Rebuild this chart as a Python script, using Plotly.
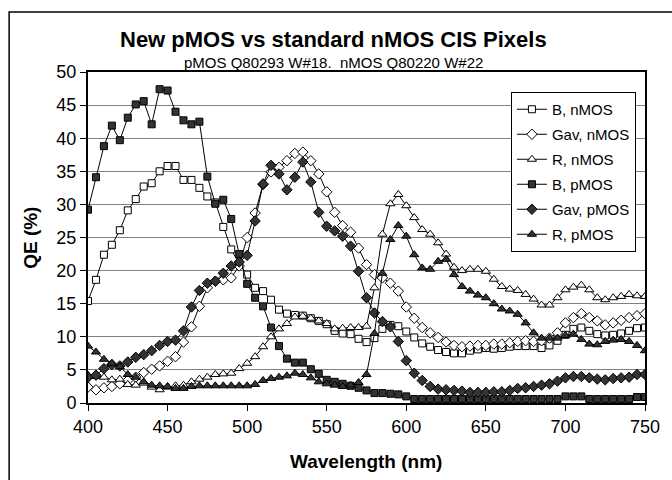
import plotly.graph_objects as go

wavelength = [400, 405, 410, 415, 420, 425, 430, 435, 440, 445,
              450, 455, 460, 465, 470, 475, 480, 485, 490, 495,
              500, 505, 510, 515, 520, 525, 530, 535, 540, 545,
              550, 555, 560, 565, 570, 575, 580, 585, 590, 595,
              600, 605, 610, 615, 620, 625, 630, 635, 640, 645,
              650, 655, 660, 665, 670, 675, 680, 685, 690, 695,
              700, 705, 710, 715, 720, 725, 730, 735, 740, 745,
              750]

b_nmos = [15.4, 18.6, 22.4, 23.9, 26.1, 29.1, 30.8, 32.7, 33.2, 35.0,
          35.8, 35.8, 33.7, 33.7, 32.5, 31.2, 30.3, 26.6, 23.2, 21.0,
          19.4, 17.4, 16.9, 15.6, 14.1, 13.5, 13.3, 13.2, 12.8, 12.4,
          11.9, 10.9, 10.5, 10.4, 9.7, 9.2, 9.8, 11.2, 11.8, 11.6,
          10.8, 9.9, 9.0, 8.5, 8.0, 7.7, 7.5, 7.5, 7.9, 8.1,
          8.3, 8.2, 8.3, 8.5, 8.6, 8.6, 8.6, 8.3, 8.7, 9.4,
          10.3, 11.2, 11.4, 10.9, 10.4, 10.2, 10.3, 10.5, 10.9, 11.3,
          11.4]

gav_nmos = [2.4, 2.0, 2.3, 2.5, 2.9, 3.4, 3.9, 4.6, 5.1, 5.6,
            6.3, 7.0, 9.2, 11.5, 14.6, 17.4, 18.4, 18.6, 18.9, 20.7,
            25.0, 28.7, 33.0, 34.9, 35.6, 36.6, 37.7, 37.9, 36.6, 34.6,
            31.9, 28.8, 26.8, 25.8, 23.4, 20.9, 19.4, 18.9, 18.1, 16.9,
            14.5, 12.8, 11.4, 10.6, 9.9, 9.2, 8.7, 8.5, 8.6, 8.7,
            8.7, 8.9, 8.9, 9.1, 9.3, 9.4, 9.3, 9.4, 9.8, 10.6,
            12.1, 12.9, 13.5, 12.9, 12.4, 11.8, 12.1, 12.5, 12.9, 13.2,
            13.5]

r_nmos = [4.2, 4.0, 3.9, 3.5, 3.6, 2.8, 2.7, 3.0, 2.4, 2.0,
          2.4, 2.6, 2.7, 3.2, 3.6, 3.9, 4.3, 4.4, 4.5, 5.2,
          6.0, 7.0, 8.5, 10.0, 11.2, 12.0, 13.0, 13.1, 12.8, 12.4,
          12.0, 11.2, 11.3, 11.4, 11.4, 11.6, 17.4, 25.5, 30.1, 31.5,
          29.8, 28.0, 26.2, 25.5, 24.2, 22.5, 20.5, 20.0, 20.2, 20.2,
          19.9, 18.7, 17.6, 17.2, 17.0, 16.4, 15.7, 14.8, 14.8, 15.9,
          17.1, 17.5, 17.8, 17.1, 15.9, 15.6, 15.9, 16.1, 16.4, 16.2,
          16.1]

b_pmos = [29.2, 34.1, 38.8, 41.9, 39.7, 43.1, 45.1, 45.6, 42.1, 47.4,
          47.2, 44.0, 42.7, 42.1, 42.5, 34.2, 30.1, 30.7, 27.8, 22.5,
          18.0, 15.9, 14.6, 11.4, 8.6, 6.7, 6.1, 6.1, 5.1, 4.4,
          3.5, 3.2, 2.9, 2.6, 2.3, 1.9, 1.5, 1.5, 1.4, 1.3,
          1.0, 0.6, 0.6, 0.6, 0.6, 0.6, 0.6, 0.6, 0.6, 0.6,
          0.6, 0.6, 0.6, 0.6, 0.6, 0.6, 0.6, 0.6, 0.6, 0.6,
          1.0, 1.0, 1.0, 0.6, 0.6, 0.6, 0.6, 0.6, 0.6, 0.9,
          0.9]

gav_pmos = [3.9, 4.2, 5.2, 5.8, 5.6, 6.2, 6.9, 7.3, 7.9, 8.7,
            9.3, 9.5, 10.9, 14.5, 17.0, 18.1, 18.4, 19.6, 20.7, 21.3,
            22.3, 27.5, 33.1, 35.9, 34.6, 32.2, 34.1, 36.4, 33.4, 28.8,
            26.7, 26.0, 25.2, 23.7, 19.9, 15.9, 13.6, 12.3, 11.5, 9.3,
            6.4, 4.5, 3.4, 2.5, 2.1, 2.0, 1.9, 1.8, 1.6, 1.6,
            1.6, 1.7, 1.7, 1.9, 2.2, 2.3, 2.5, 2.7, 2.9, 3.3,
            3.8, 4.0, 4.0, 3.8, 3.6, 3.5, 3.7, 3.8, 3.9, 4.3,
            4.3]

r_pmos = [8.6, 7.7, 6.6, 6.0, 5.5, 4.3, 3.9, 3.2, 2.7, 2.6,
          2.5, 2.2, 2.2, 2.5, 2.6, 2.6, 2.6, 2.6, 2.6, 2.6,
          2.6, 2.8, 3.4, 3.7, 3.9, 4.1, 4.5, 4.3, 3.8, 3.2,
          2.9, 2.7, 2.5, 2.7, 3.1, 4.3, 10.5, 19.6, 24.7, 26.8,
          25.2, 22.4, 20.4, 20.2, 21.4, 21.7, 19.4, 17.6, 16.9, 16.3,
          15.9, 15.0, 14.2, 13.9, 13.4, 12.1, 10.6, 9.8, 9.8, 9.8,
          10.2, 10.4, 9.6, 8.9, 8.8, 9.3, 9.5, 9.6, 9.3, 8.7,
          7.9]

series_names = ["B, nMOS", "Gav, nMOS", "R, nMOS", "B, pMOS", "Gav, pMOS", "R, pMOS"]

FONT = "Liberation Sans, Arial, sans-serif"
W, H = 672, 480
L, R, T, B = 88, 19, 72, 77
PW, PH = W - L - R, H - T - B


def px_x(p):
    return (p - L) / PW


def px_y(p):
    return (H - B - p) / PH


styles = [
    dict(symbol="square", size=7, color="white"),
    dict(symbol="diamond", size=8, color="white"),
    dict(symbol="triangle-up", size=8, color="white"),
    dict(symbol="square", size=7, color="#333333"),
    dict(symbol="diamond", size=8, color="#333333"),
    dict(symbol="triangle-up", size=8, color="#333333"),
]

fig = go.Figure()
for name, vals, st in zip(series_names,
                          [b_nmos, gav_nmos, r_nmos, b_pmos, gav_pmos, r_pmos],
                          styles):
    fig.add_trace(go.Scatter(
        x=wavelength, y=vals, name=name, mode="lines+markers",
        line=dict(color="black", width=1),
        marker=dict(symbol=st["symbol"], size=st["size"], color=st["color"],
                    line=dict(color="black", width=1)),
        legendgroup=name,
    ))

fig.update_layout(
    width=W, height=H,
    margin=dict(l=L, r=R, t=T, b=B, pad=0),
    paper_bgcolor="white", plot_bgcolor="white",
    font=dict(family=FONT, color="black"),
    showlegend=True,
    legend=dict(
        x=px_x(517), y=px_y(92), xanchor="left", yanchor="top",
        bgcolor="white", bordercolor="black", borderwidth=1,
        font=dict(family=FONT, size=15, color="black"),
        tracegroupgap=2.5,
    ),
    xaxis=dict(
        range=[400, 750], dtick=50, tick0=400,
        showgrid=False, zeroline=False,
        showline=True, linecolor="black", linewidth=2, mirror=True,
        ticks="outside", ticklen=6, tickwidth=1, tickcolor="black",
        tickfont=dict(family=FONT, size=18, color="black"),
    ),
    yaxis=dict(
        range=[0, 50], dtick=5, tick0=0,
        showgrid=True, gridcolor="#808080", gridwidth=1, zeroline=False,
        showline=True, linecolor="black", linewidth=2, mirror=True,
        ticks="outside", ticklen=6, tickwidth=1, tickcolor="black",
        tickfont=dict(family=FONT, size=18, color="black"),
    ),
    shapes=[
        dict(type="rect", xref="paper", yref="paper",
             x0=px_x(8), x1=px_x(690), y0=px_y(12), y1=px_y(500),
             line=dict(color="black", width=1.5), fillcolor="rgba(0,0,0,0)",
             layer="below"),
    ],
    annotations=[
        dict(text="<b>New pMOS vs standard nMOS CIS Pixels</b>",
             xref="paper", yref="paper", x=px_x(337), y=px_y(40),
             xanchor="center", yanchor="middle", showarrow=False,
             font=dict(family=FONT, size=22, color="black")),
        dict(text="pMOS Q80293 W#18.  nMOS Q80220 W#22",
             xref="paper", yref="paper", x=px_x(337), y=px_y(62),
             xanchor="center", yanchor="middle", showarrow=False,
             font=dict(family=FONT, size=15, color="black")),
        dict(text="<b>Wavelength (nm)</b>",
             xref="paper", yref="paper", x=px_x(370), y=px_y(461),
             xanchor="center", yanchor="middle", showarrow=False,
             font=dict(family=FONT, size=19, color="black")),
        dict(text="<b>QE (%)</b>",
             xref="paper", yref="paper", x=px_x(29), y=px_y(238),
             xanchor="center", yanchor="middle", showarrow=False, textangle=-90,
             font=dict(family=FONT, size=19, color="black")),
    ],
)

fig.write_html("out.html")
